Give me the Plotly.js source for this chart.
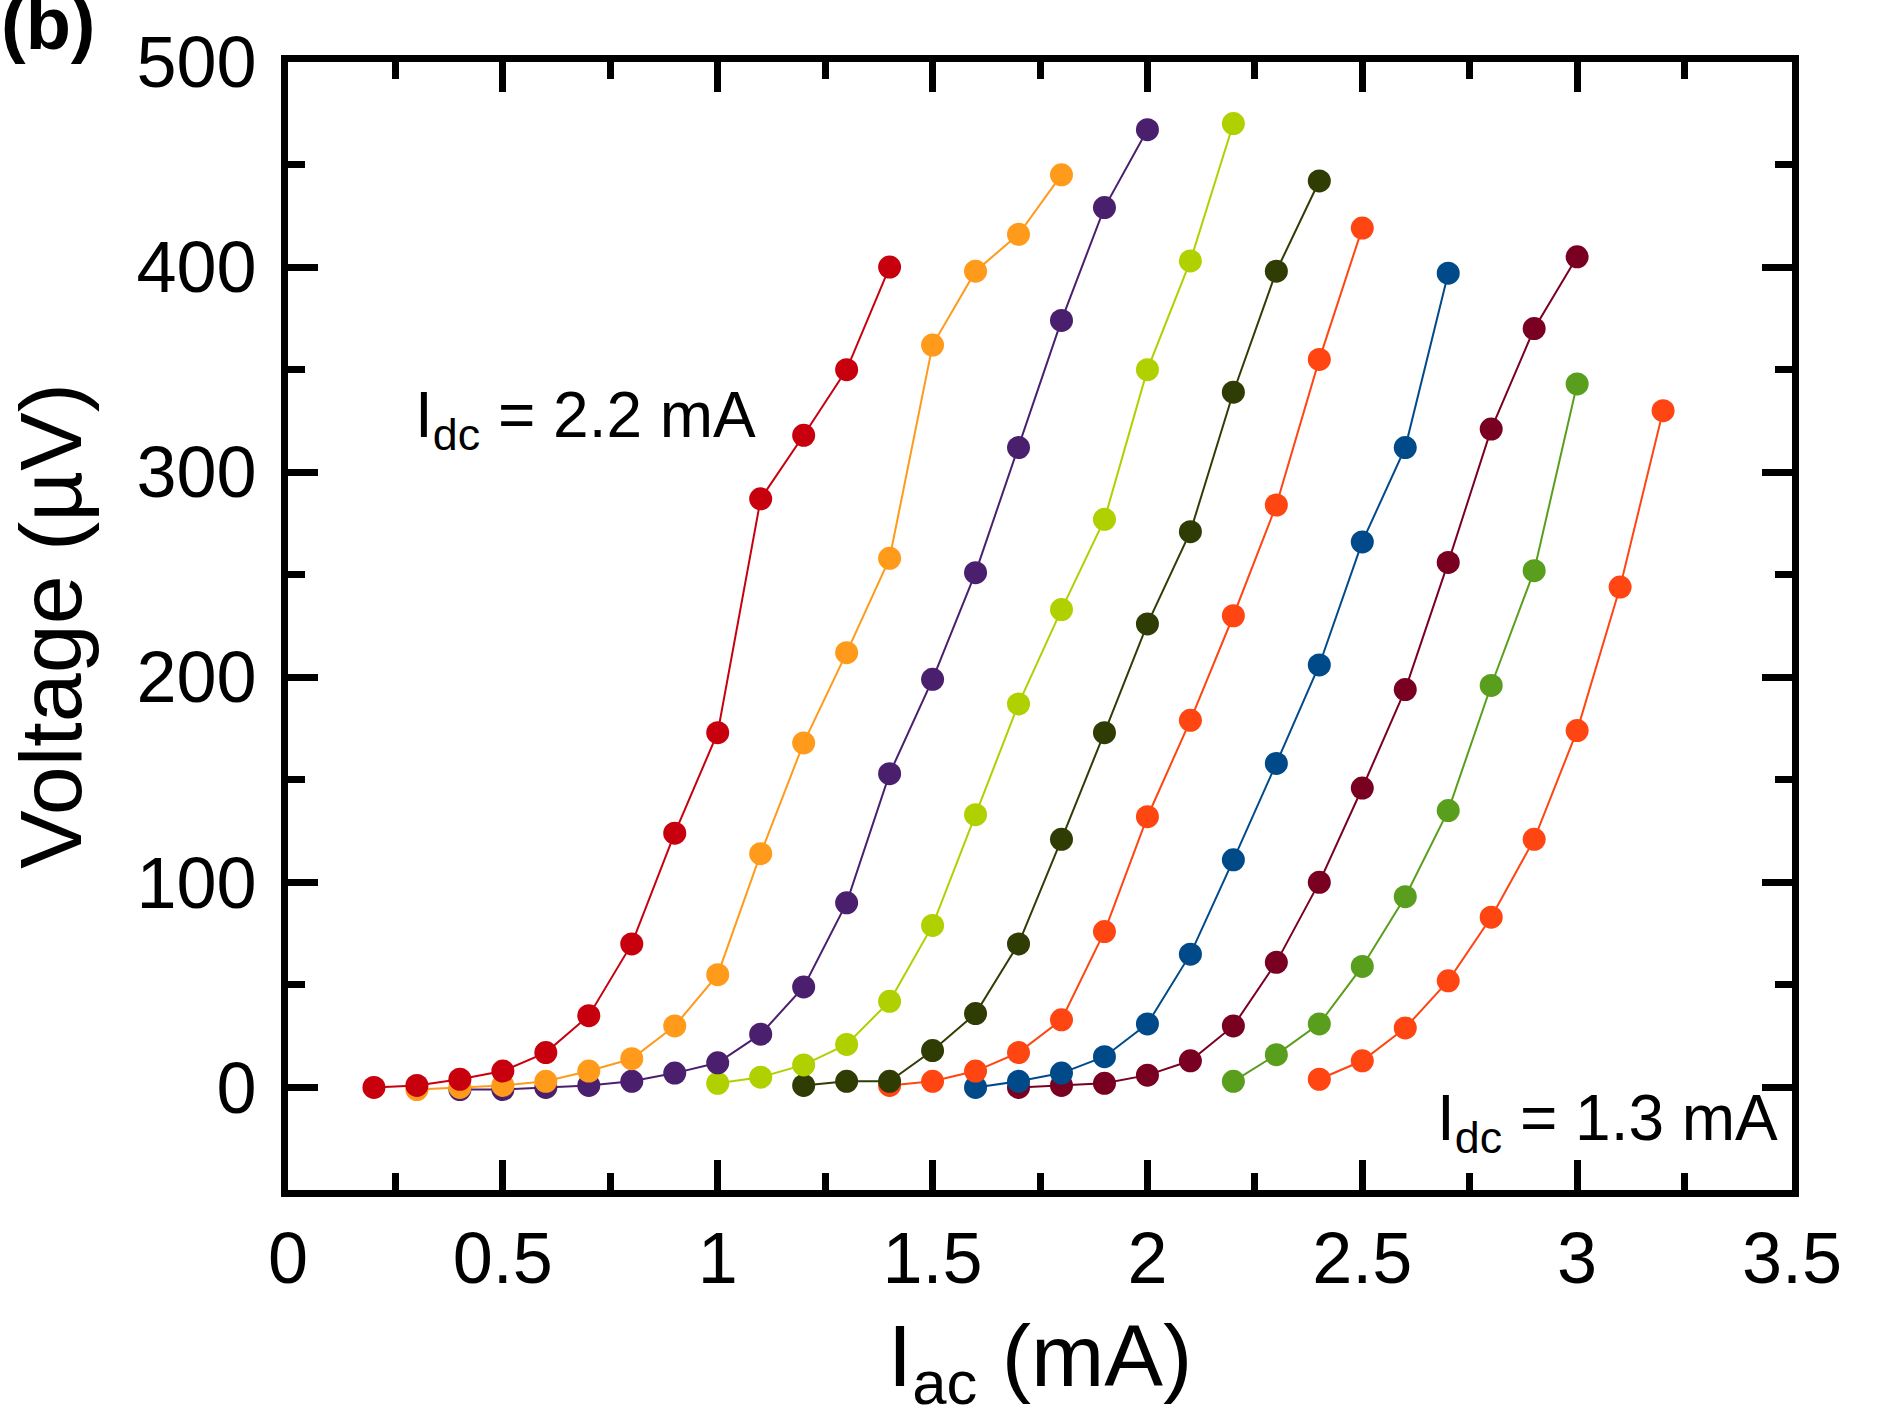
<!DOCTYPE html>
<html>
<head>
<meta charset="utf-8">
<script src="https://cdn.plot.ly/plotly-3.0.1.min.js"></script>
<style>
  body { margin: 0; background: #fff; }
  #chart { width: 1889px; height: 1417px; }
</style>
</head>
<body>
<div id="chart"></div>
<script>
// Idc from 2.2 mA (left) down to 1.3 mA (right)
var idcLabels = ['2.2', '2.1', '2.0', '1.9', '1.8', '1.7', '1.6', '1.5', '1.4', '1.3'];
var colors = ['#c8000e', '#ff9a1a', '#4a1f6e', '#b0d000', '#2f3d05',
              '#ff4512', '#004a8a', '#7a0022', '#5a9e1e', '#ff4512'];

var xs = [
  [0.2, 0.3, 0.4, 0.5, 0.6, 0.7, 0.8, 0.9, 1.0, 1.1, 1.2, 1.3, 1.4],
  [0.3, 0.4, 0.5, 0.6, 0.7, 0.8, 0.9, 1.0, 1.1, 1.2, 1.3, 1.4, 1.5, 1.6, 1.7, 1.8],
  [0.4, 0.5, 0.6, 0.7, 0.8, 0.9, 1.0, 1.1, 1.2, 1.3, 1.4, 1.5, 1.6, 1.7, 1.8, 1.9, 2.0],
  [1.0, 1.1, 1.2, 1.3, 1.4, 1.5, 1.6, 1.7, 1.8, 1.9, 2.0, 2.1, 2.2],
  [1.2, 1.3, 1.4, 1.5, 1.6, 1.7, 1.8, 1.9, 2.0, 2.1, 2.2, 2.3, 2.4],
  [1.4, 1.5, 1.6, 1.7, 1.8, 1.9, 2.0, 2.1, 2.2, 2.3, 2.4, 2.5],
  [1.6, 1.7, 1.8, 1.9, 2.0, 2.1, 2.2, 2.3, 2.4, 2.5, 2.6, 2.7],
  [1.7, 1.8, 1.9, 2.0, 2.1, 2.2, 2.3, 2.4, 2.5, 2.6, 2.7, 2.8, 2.9, 3.0],
  [2.2, 2.3, 2.4, 2.5, 2.6, 2.7, 2.8, 2.9, 3.0],
  [2.4, 2.5, 2.6, 2.7, 2.8, 2.9, 3.0, 3.1, 3.2]
];

var ys = [
  [0, 1, 4, 8, 17, 35, 70, 124, 173, 287, 318, 350, 400],
  [-1, 0, 1, 3, 8, 14, 30, 55, 114, 168, 212, 258, 362, 398, 416, 445],
  [-1, -1, 0, 1, 3, 7, 12, 26, 49, 90, 153, 199, 251, 312, 374, 429, 467],
  [2, 5, 11, 21, 42, 79, 133, 187, 233, 277, 350, 403, 470],
  [1, 3, 3, 18, 36, 70, 121, 173, 226, 271, 339, 398, 442],
  [1, 3, 8, 17, 33, 76, 132, 179, 230, 284, 355, 419],
  [0, 3, 7, 15, 31, 65, 111, 158, 206, 266, 312, 397],
  [0, 1, 2, 6, 13, 30, 61, 100, 146, 194, 256, 321, 370, 405],
  [3, 16, 31, 59, 93, 135, 196, 252, 343],
  [4, 13, 29, 52, 83, 121, 174, 244, 330]
];

// draw the right-most curves first so the left ones sit on top
var data = [];
for (var i = xs.length - 1; i >= 0; i--) {
  data.push({
    x: xs[i],
    y: ys[i],
    name: 'Idc = ' + idcLabels[i] + ' mA',
    type: 'scatter',
    mode: 'lines+markers',
    line: { color: colors[i], width: 2 },
    marker: { color: colors[i], size: 23 }
  });
}

var axisCommon = {
  showline: true,
  linecolor: '#000',
  linewidth: 7,
  mirror: 'ticks',
  ticks: 'inside',
  ticklen: 30,
  tickwidth: 7,
  tickcolor: '#000',
  showgrid: false,
  zeroline: false,
  tickfont: { family: 'Liberation Sans, Arial, sans-serif', size: 72, color: '#000' }
};

var layout = {
  width: 1889,
  height: 1417,
  margin: { l: 288, r: 97, t: 62, b: 227 },
  paper_bgcolor: '#fff',
  plot_bgcolor: '#fff',
  showlegend: false,
  font: { family: 'Liberation Sans, Arial, sans-serif', color: '#000' },
  xaxis: Object.assign({}, axisCommon, {
    range: [0, 3.5],
    dtick: 0.5,
    tick0: 0,
    minor: { dtick: 0.25, ticks: 'inside', ticklen: 17, tickwidth: 7, tickcolor: '#000' },
    ticklabelstandoff: 0,
    title: { text: 'I<sub>ac</sub> (mA)', font: { size: 88 }, standoff: 32 }
  }),
  yaxis: Object.assign({}, axisCommon, {
    range: [-50, 500],
    dtick: 100,
    tick0: 0,
    minor: { dtick: 50, ticks: 'inside', ticklen: 17, tickwidth: 7, tickcolor: '#000' },
    ticklabelstandoff: 10,
    title: { text: 'Voltage (µV)', font: { size: 88 }, standoff: 28 }
  }),
  annotations: [
    {
      x: 0.29, y: 326, xref: 'x', yref: 'y',
      xanchor: 'left', yanchor: 'middle', showarrow: false,
      text: 'I<sub>dc</sub> = 2.2 mA',
      font: { size: 64 }
    },
    {
      x: 2.67, y: -17, xref: 'x', yref: 'y',
      xanchor: 'left', yanchor: 'middle', showarrow: false,
      text: 'I<sub>dc</sub> = 1.3 mA',
      font: { size: 64 }
    },
    {
      x: -0.192, y: 0.996, xref: 'paper', yref: 'paper',
      xanchor: 'left', yanchor: 'bottom', showarrow: false,
      text: '<b>(b)</b>',
      font: { size: 74 }
    }
  ]
};

Plotly.newPlot('chart', data, layout, { displayModeBar: false, staticPlot: true });
</script>
</body>
</html>
